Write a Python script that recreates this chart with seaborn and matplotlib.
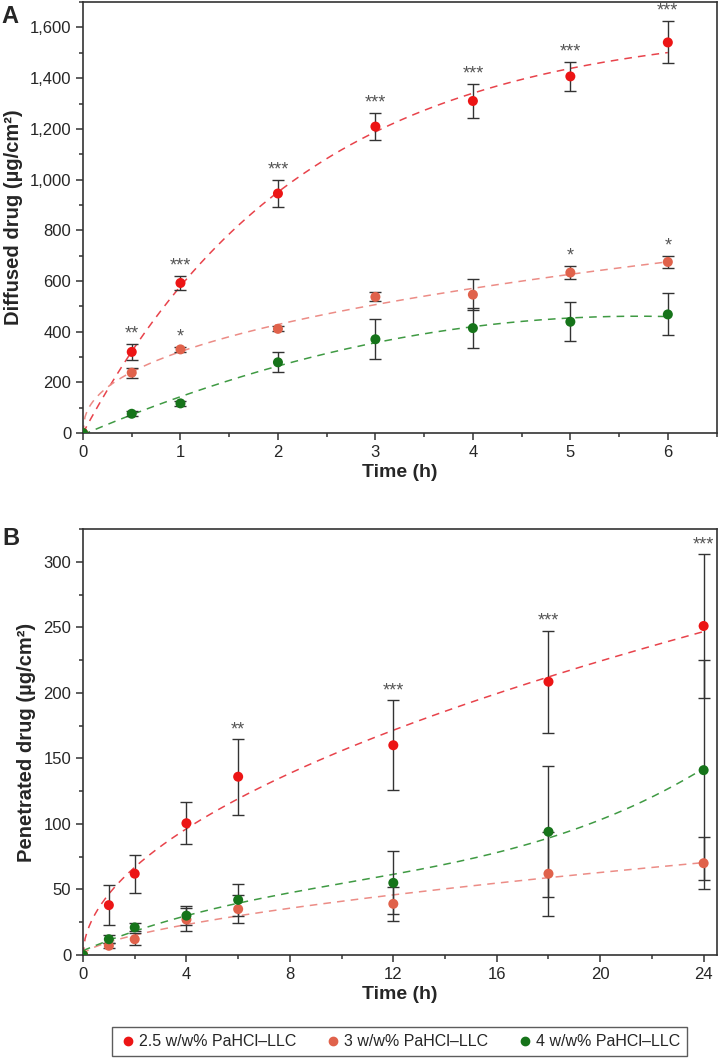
import numpy as np
import pandas as pd
import matplotlib
matplotlib.use("Agg")
import matplotlib.pyplot as plt
from matplotlib.ticker import MultipleLocator, FuncFormatter
from matplotlib.lines import Line2D
import seaborn as sns

sns.set_style("ticks")
plt.rcParams['font.family'] = ['Liberation Sans', 'DejaVu Sans']

# groups
groups = ["2.5 w/w% PaHCl–LLC", "3 w/w% PaHCl–LLC", "4 w/w% PaHCl–LLC"]
point_colors = ["#ec1515", "#e0624b", "#16741a"]
line_colors = ["#e8434b", "#ec8c86", "#3f9a43"]

# panel A - diffusion
time_a = [0, 0.5, 1, 2, 3, 4, 5, 6]
red_a = [0, 320, 592, 945, 1209, 1310, 1407, 1541]
red_a_err = [0, 30, 27, 52, 53, 68, 58, 83]
orange_a = [0, 238, 330, 411, 537, 546, 633, 675]
orange_a_err = [0, 20, 10, 10, 18, 60, 26, 25]
green_a = [0, 76, 117, 279, 370, 414, 439, 468]
green_a_err = [0, 10, 10, 39, 78, 79, 77, 83]
stars_red_a = ["", "**", "***", "***", "***", "***", "***", "***"]
stars_orange_a = ["", "", "*", "", "", "", "*", "*"]

# panel B - penetration
time_b = [0, 1, 2, 4, 6, 12, 18, 24]
red_b = [0, 38, 62, 100.5, 136, 160, 208.5, 251]
red_b_err = [0, 15.5, 14.5, 16, 29, 34.5, 39, 55]
orange_b = [0, 7, 12, 27, 35, 39, 62, 70]
orange_b_err = [0, 2, 4.5, 9, 11, 13, 32, 20]
green_b = [0, 12, 21, 30, 42, 55, 94, 141]
green_b_err = [0, 3, 3, 7, 12, 24, 50, 84]
stars_red_b = ["", "", "", "", "**", "***", "***", "***"]


def fit_power(t, y):
    t = np.asarray(t, float); y = np.asarray(y, float)
    best = None
    for n in np.linspace(0.1, 1.5, 281):
        f = t ** n
        a = (f * y).sum() / (f * f).sum()
        r = ((a * f - y) ** 2).sum()
        if best is None or r < best[0]:
            best = (r, a, n)
    return lambda x: best[1] * x ** best[2]


def fit_firstorder(t, y):
    t = np.asarray(t, float); y = np.asarray(y, float)
    best = None
    for k in np.linspace(0.05, 2, 391):
        f = 1 - np.exp(-k * t)
        a = (f * y).sum() / (f * f).sum()
        r = ((a * f - y) ** 2).sum()
        if best is None or r < best[0]:
            best = (r, a, k)
    return lambda x: best[1] * (1 - np.exp(-best[2] * x))


def fit_poly(t, y, deg):
    c = np.polyfit(t, y, deg)
    return lambda x: np.polyval(c, x)


def panel(ax, t, series, errs, fits, tmax):
    tt = np.linspace(0, tmax, 300)
    for i in range(3):
        fit_df = pd.DataFrame({"t": tt, "y": fits[i](tt)})
        sns.lineplot(data=fit_df, x="t", y="y", ax=ax, color=line_colors[i],
                     linestyle=(0, (5, 4)), linewidth=1.1, zorder=2)
    for i in range(3):
        ax.errorbar(t[1:], series[i][1:], yerr=errs[i][1:], fmt="none",
                    ecolor="#333333", elinewidth=1.0, capsize=4, capthick=1.0, zorder=3)
    for i in range(3):
        df = pd.DataFrame({"t": t, "y": series[i]})
        sns.scatterplot(data=df, x="t", y="y", ax=ax, color=point_colors[i], s=52,
                        edgecolor="none", zorder=4)


fig = plt.figure(figsize=(7.18, 10.58), dpi=100)
axA = fig.add_axes([0.1156, 0.5907, 0.8824, 0.4073])
axB = fig.add_axes([0.1156, 0.0974, 0.8824, 0.4026])

panel(axA, time_a, [red_a, orange_a, green_a], [red_a_err, orange_a_err, green_a_err],
      [fit_firstorder(time_a, red_a), fit_power(time_a, orange_a), fit_poly(time_a, green_a, 2)], 6)
panel(axB, time_b, [red_b, orange_b, green_b], [red_b_err, orange_b_err, green_b_err],
      [fit_power(time_b, red_b), fit_power(time_b, orange_b), fit_poly(time_b, green_b, 3)], 24)

for i, s in enumerate(stars_red_a):
    if s:
        axA.text(time_a[i], red_a[i] + red_a_err[i] + 6, s, ha="center", va="bottom",
                 fontsize=13, color="#555555")
for i, s in enumerate(stars_orange_a):
    if s:
        axA.text(time_a[i], orange_a[i] + orange_a_err[i] + 6, s, ha="center", va="bottom",
                 fontsize=13, color="#555555")
for i, s in enumerate(stars_red_b):
    if s:
        axB.text(time_b[i], red_b[i] + red_b_err[i] + 0.5, s, ha="center", va="bottom",
                 fontsize=13, color="#555555")

axA.set_xlim(0, 6.5)
axA.set_ylim(0, 1700)
axA.xaxis.set_major_locator(MultipleLocator(1))
axA.xaxis.set_minor_locator(MultipleLocator(0.5))
axA.yaxis.set_major_locator(MultipleLocator(200))
axA.yaxis.set_minor_locator(MultipleLocator(100))
axA.yaxis.set_major_formatter(FuncFormatter(lambda v, p: f"{int(v):,}"))
axA.set_ylabel("Diffused drug (µg/cm²)", fontsize=14.5, fontweight="bold", labelpad=5)
axA.set_xlabel("Time (h)", fontsize=14, fontweight="bold", labelpad=3)

axB.set_xlim(0, 24.5)
axB.set_ylim(0, 325)
axB.xaxis.set_major_locator(MultipleLocator(4))
axB.xaxis.set_minor_locator(MultipleLocator(2))
axB.yaxis.set_major_locator(MultipleLocator(50))
axB.yaxis.set_minor_locator(MultipleLocator(25))
axB.set_ylabel("Penetrated drug (µg/cm²)", fontsize=14.5, fontweight="bold", labelpad=5)
axB.set_xlabel("Time (h)", fontsize=14, fontweight="bold", labelpad=3)

for ax in (axA, axB):
    for sp in ax.spines.values():
        sp.set_color("#333333")
        sp.set_linewidth(1.2)
    ax.tick_params(which="major", direction="out", length=5, width=1.1, labelsize=12,
                   color="#333333")
    ax.tick_params(which="minor", direction="out", length=3, width=1.1, color="#333333")

fig.text(0.002, 0.984, "A", fontsize=17, fontweight="bold", va="center", ha="left")
fig.text(0.004, 0.491, "B", fontsize=17, fontweight="bold", va="center", ha="left")

handles = [Line2D([], [], marker="o", linestyle="none", color=c, markersize=6) for c in point_colors]
fig.legend(handles, groups, loc="center", bbox_to_anchor=(0.557, 0.0155), ncol=3,
           frameon=True, fancybox=False, edgecolor="#333333", fontsize=11.5,
           handletextpad=0.2, columnspacing=1.8, borderpad=0.45, handlelength=1.0)

fig.savefig("out.png", dpi=100)
